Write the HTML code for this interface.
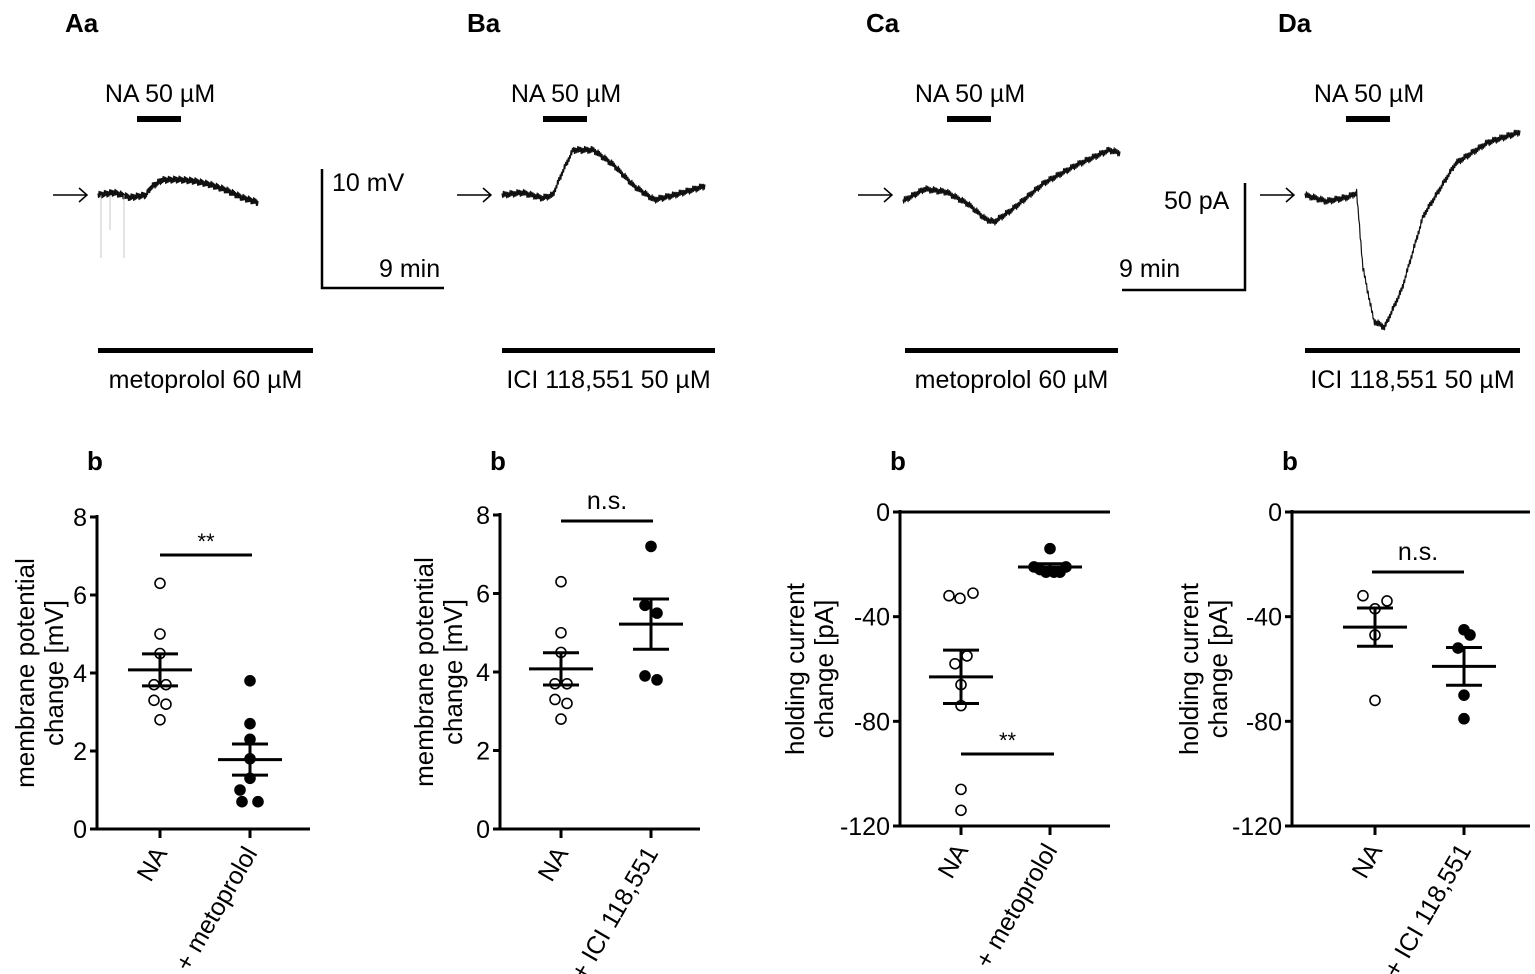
<!DOCTYPE html>
<html><head><meta charset="utf-8"><style>
html,body{margin:0;padding:0;background:#fff;}
svg{display:block;font-family:"Liberation Sans",Arial,sans-serif;}
</style></head><body>
<svg id="fig" width="1535" height="974" viewBox="0 0 1535 974" xmlns="http://www.w3.org/2000/svg"></svg>
<script>
// ---- data ----
const panelLetters = ["Aa","Ba","Ca","Da"];
const drugLabels = ["metoprolol 60 µM","ICI 118,551 50 µM","metoprolol 60 µM","ICI 118,551 50 µM"];
const catsA = ["NA","+ metoprolol"];
const catsB = ["NA","+ ICI 118,551"];
const catsC = ["NA","+ metoprolol"];
const catsD = ["NA","+ ICI 118,551"];
const vTicks = [0,2,4,6,8];
const iTicks = [0,-40,-80,-120];
const aNA = [6.3,5.0,4.5,3.7,3.7,3.3,3.2,2.8];
const aDrug = [3.8,2.7,2.3,1.8,1.3,1.0,0.7,0.7];
const aMean = [4.08,1.78], aSem = [0.41,0.4];
const bNA = [6.3,5.0,4.5,3.7,3.7,3.3,3.2,2.8];
const bDrug = [7.2,5.7,5.5,3.9,3.8];
const bMean = [4.08,5.22], bSem = [0.41,0.64];
const cNA = [-32,-33,-31,-58,-55,-66,-74,-106,-114];
const cDrug = [-14,-21,-22,-23,-23,-23,-21];
const cMean = [-63,-21], cSem = [10.2,1.2];
const dNA = [-32,-37,-34,-47,-72];
const dDrug = [-45,-47,-52,-70,-79];
const dMean = [-44,-59], dSem = [7.3,7.2];
// trace samples (relative time 0..1, value)
const traceA = [[0,0],[0.1,0.5],[0.2,-0.5],[0.3,0],[0.33,1.5],[0.4,3.0],[0.5,3.1],[0.6,2.8],[0.7,2.1],[0.8,1.0],[0.9,-0.5],[1,-1.5]];
const traceB = [[0,0],[0.1,0.4],[0.2,-0.5],[0.25,0],[0.3,4],[0.35,7.5],[0.45,7.5],[0.55,5],[0.65,1.5],[0.75,-0.8],[0.85,0],[1,1.5]];
const traceC = [[0,-2],[0.1,2],[0.2,1],[0.3,-3],[0.38,-8],[0.42,-9],[0.5,-5],[0.65,4],[0.8,10],[0.95,15],[1,14]];
const traceD = [[0,0],[0.1,-3],[0.2,-1],[0.24,1],[0.27,-35],[0.32,-60],[0.37,-63],[0.45,-45],[0.55,-10],[0.7,15],[0.85,25],[1,30]];

const NS="http://www.w3.org/2000/svg";
const svg=document.getElementById('fig');
function el(tag,attrs,parent){const e=document.createElementNS(NS,tag);for(const k in attrs)e.setAttribute(k,attrs[k]);(parent||svg).appendChild(e);return e;}
function txt(s,x,y,size,attrs){const t=el('text',Object.assign({x:x,y:y,'font-size':size,fill:'#000'},attrs||{}));t.textContent=s;return t;}

// ---- top row ----
const topX=[[98,258],[502,705],[903,1120],[1305,1520]];
const topScale=[5,6,3,2.1];
const naBarX=[137,543,947,1346];
const longBar=[[98,313],[502,715],[905,1118],[1305,1520]];
const letterX=[65,467,866,1278];
for(let p=0;p<4;p++){
  const g=el('g',{});
  
  
  let t=txt(panelLetters[p],letterX[p],32,26,{'font-weight':'bold'});g.appendChild(t);
  
  t=txt('NA 50 µM',naBarX[p]+23,102,25,{'text-anchor':'middle'});g.appendChild(t);
  
  let r=el('rect',{x:naBarX[p],y:116,width:44,height:6,fill:'#000'},g);
  
  r=el('rect',{x:longBar[p][0],y:348,width:longBar[p][1]-longBar[p][0],height:5,fill:'#000'},g);
  
  t=txt(drugLabels[p],(longBar[p][0]+longBar[p][1])/2,388,25,{'text-anchor':'middle'});g.appendChild(t);
  
  const ax=topX[p][0]-45;
  const a=el('path',{d:`M${ax} 195 H${ax+34} M${ax+26} 188 L${ax+34} 195 L${ax+26} 202`,stroke:'#000','stroke-width':1.5,fill:'none'},g);
  
  const tr=[traceA,traceB,traceC,traceD][p];
  const x0=topX[p][0],x1=topX[p][1],s=topScale[p];
  let pts=[];
  for(let i=0;i<=300;i++){const f=i/300;let k=0;while(k<tr.length-2&&tr[k+1][0]<f)k++;
    const a0=tr[k],a1=tr[k+1];const u=(f-a0[0])/(a1[0]-a0[0]);const v=a0[1]+(a1[1]-a0[1])*Math.max(0,Math.min(1,u));
    const n=(i%2?1:-1)*(1.5+((i*7)%5)*0.5);
    pts.push((x0+f*(x1-x0)).toFixed(1)+','+(195-v*s+n).toFixed(1));}
  const pl=el('polyline',{points:pts.join(' '),fill:'none',stroke:'#111','stroke-width':1.2,'stroke-linejoin':'round'},g);
  
}
[[101,258],[110,230],[124,258]].forEach(s=>{const l=el('line',{x1:s[0],y1:195,x2:s[0],y2:s[1],stroke:'#bbb','stroke-width':0.8});});
let sb=el('path',{d:'M322 169 V288 H444',stroke:'#000','stroke-width':2.5,fill:'none'});

let st=txt('10 mV',332,191,25);
st=txt('9 min',379,277,25);
sb=el('path',{d:'M1245 183 V290 H1122',stroke:'#000','stroke-width':2.5,fill:'none'});

st=txt('50 pA',1164,209,25);
st=txt('9 min',1119,277,25);

// ---- bottom scatter plots ----
function scatter(cfg){
  const g=el('g',{});
  
  
  const y=v=>cfg.yTop+(cfg.vTop-v)/(cfg.vTop-cfg.vBot)*(cfg.yBot-cfg.yTop);
  let t=txt('b',cfg.ax-10,470,26,{'font-weight':'bold'});g.appendChild(t);
  
  el('line',{x1:cfg.ax,y1:cfg.yTop-2,x2:cfg.ax,y2:cfg.yBot+1,stroke:'#000','stroke-width':3},g);
  const xa=el('line',{x1:cfg.ax-7,y1:y(cfg.zero),x2:cfg.axEnd,y2:y(cfg.zero),stroke:'#000','stroke-width':3},g);
  
  if(cfg.zero!==cfg.vBot){const l=el('line',{x1:cfg.ax,y1:cfg.yBot,x2:cfg.axEnd,y2:cfg.yBot,stroke:'#000','stroke-width':3},g);}
  cfg.ticks.forEach(v=>{
    el('line',{x1:cfg.ax-7,y1:y(v),x2:cfg.ax,y2:y(v),stroke:'#000','stroke-width':3},g);
    const tl=txt(String(v),cfg.ax-10,y(v)+9,25,{'text-anchor':'end'});g.appendChild(tl);
    
  });
  const tt=el('text',{transform:`translate(${cfg.ax+cfg.titleOff},${(cfg.yTop+cfg.yBot)/2}) rotate(-90)`,'font-size':26,'text-anchor':'middle',fill:'#000'},g);
  
  const s1=el('tspan',{x:0,dy:0},tt);s1.textContent=cfg.title[0];
  const s2=el('tspan',{x:0,dy:29},tt);s2.textContent=cfg.title[1];
  cfg.cats.forEach((c,i)=>{
    const cx=cfg.cx[i];
    el('line',{x1:cx,y1:cfg.yBot,x2:cx,y2:cfg.yBot+9,stroke:'#000','stroke-width':3},g);
    const cl=el('text',{transform:`translate(${cx+8},${cfg.yBot+24}) rotate(-60)`,'font-size':25,'text-anchor':'end',fill:'#000'},g);
    cl.textContent=c;
    const vals=i===0?cfg.na:cfg.drug;
    vals.forEach((v,k)=>{
      const off=cfg.jit[i][k]||0;
      const c2=el('circle',{cx:cx+off,cy:y(v),r:5,fill:i===0?'#fff':'#000',stroke:'#000','stroke-width':1.6},g);
      
    });
    const m=cfg.mean[i],se=cfg.sem[i];
    const eb=el('path',{d:`M${cx-32} ${y(m)} H${cx+32} M${cx} ${y(m+se)} V${y(m-se)} M${cx-18} ${y(m+se)} H${cx+18} M${cx-18} ${y(m-se)} H${cx+18}`,stroke:'#000','stroke-width':3,fill:'none'},g);
    
  });
  const sig=el('line',{x1:cfg.sigX[0],y1:cfg.sigY,x2:cfg.sigX[1],y2:cfg.sigY,stroke:'#000','stroke-width':3},g);
  
  const sl=txt(cfg.sig,(cfg.sigX[0]+cfg.sigX[1])/2,cfg.sigY-(cfg.sig==='**'?6:12),cfg.sig==='**'?22:25,{'text-anchor':'middle'});g.appendChild(sl);
  
}
const jV=[[0,0,0,-6,6,-6,6,0],[0,0,0,0,0,-10,-8,8]];
scatter({name:'plot-ab',ax:97,axEnd:310,yTop:517,yBot:829,vTop:8,vBot:0,zero:0,ticks:vTicks,titleOff:-63,title:['membrane potential','change [mV]'],cats:catsA,cx:[160,250],na:aNA,drug:aDrug,mean:aMean,sem:aSem,jit:jV,sigX:[160,252],sigY:555,sig:'**'});
scatter({name:'plot-bb',ax:500,axEnd:700,yTop:515,yBot:829,vTop:8,vBot:0,zero:0,ticks:vTicks,titleOff:-67,title:['membrane potential','change [mV]'],cats:catsB,cx:[561,651],na:bNA,drug:bDrug,mean:bMean,sem:bSem,jit:[[0,0,0,-6,6,-6,6,0],[0,-6,6,-6,6]],sigX:[561,653],sigY:521,sig:'n.s.'});
scatter({name:'plot-cb',ax:900,axEnd:1110,yTop:512,yBot:826,vTop:0,vBot:-120,zero:0,ticks:iTicks,titleOff:-96,title:['holding current','change [pA]'],cats:catsC,cx:[961,1050],na:cNA,drug:cDrug,mean:cMean,sem:cSem,jit:[[-12,-1,12,-6,6,0,0,0,0],[0,-16,-10,-4,4,10,16]],sigX:[961,1054],sigY:754,sig:'**'});
scatter({name:'plot-db',ax:1292,axEnd:1530,yTop:512,yBot:826,vTop:0,vBot:-120,zero:0,ticks:iTicks,titleOff:-94,title:['holding current','change [pA]'],cats:catsD,cx:[1375,1464],na:dNA,drug:dDrug,mean:dMean,sem:dSem,jit:[[-12,0,12,0,0],[0,6,-6,0,0]],sigX:[1372,1464],sigY:572,sig:'n.s.'});
</script>
</body></html>
